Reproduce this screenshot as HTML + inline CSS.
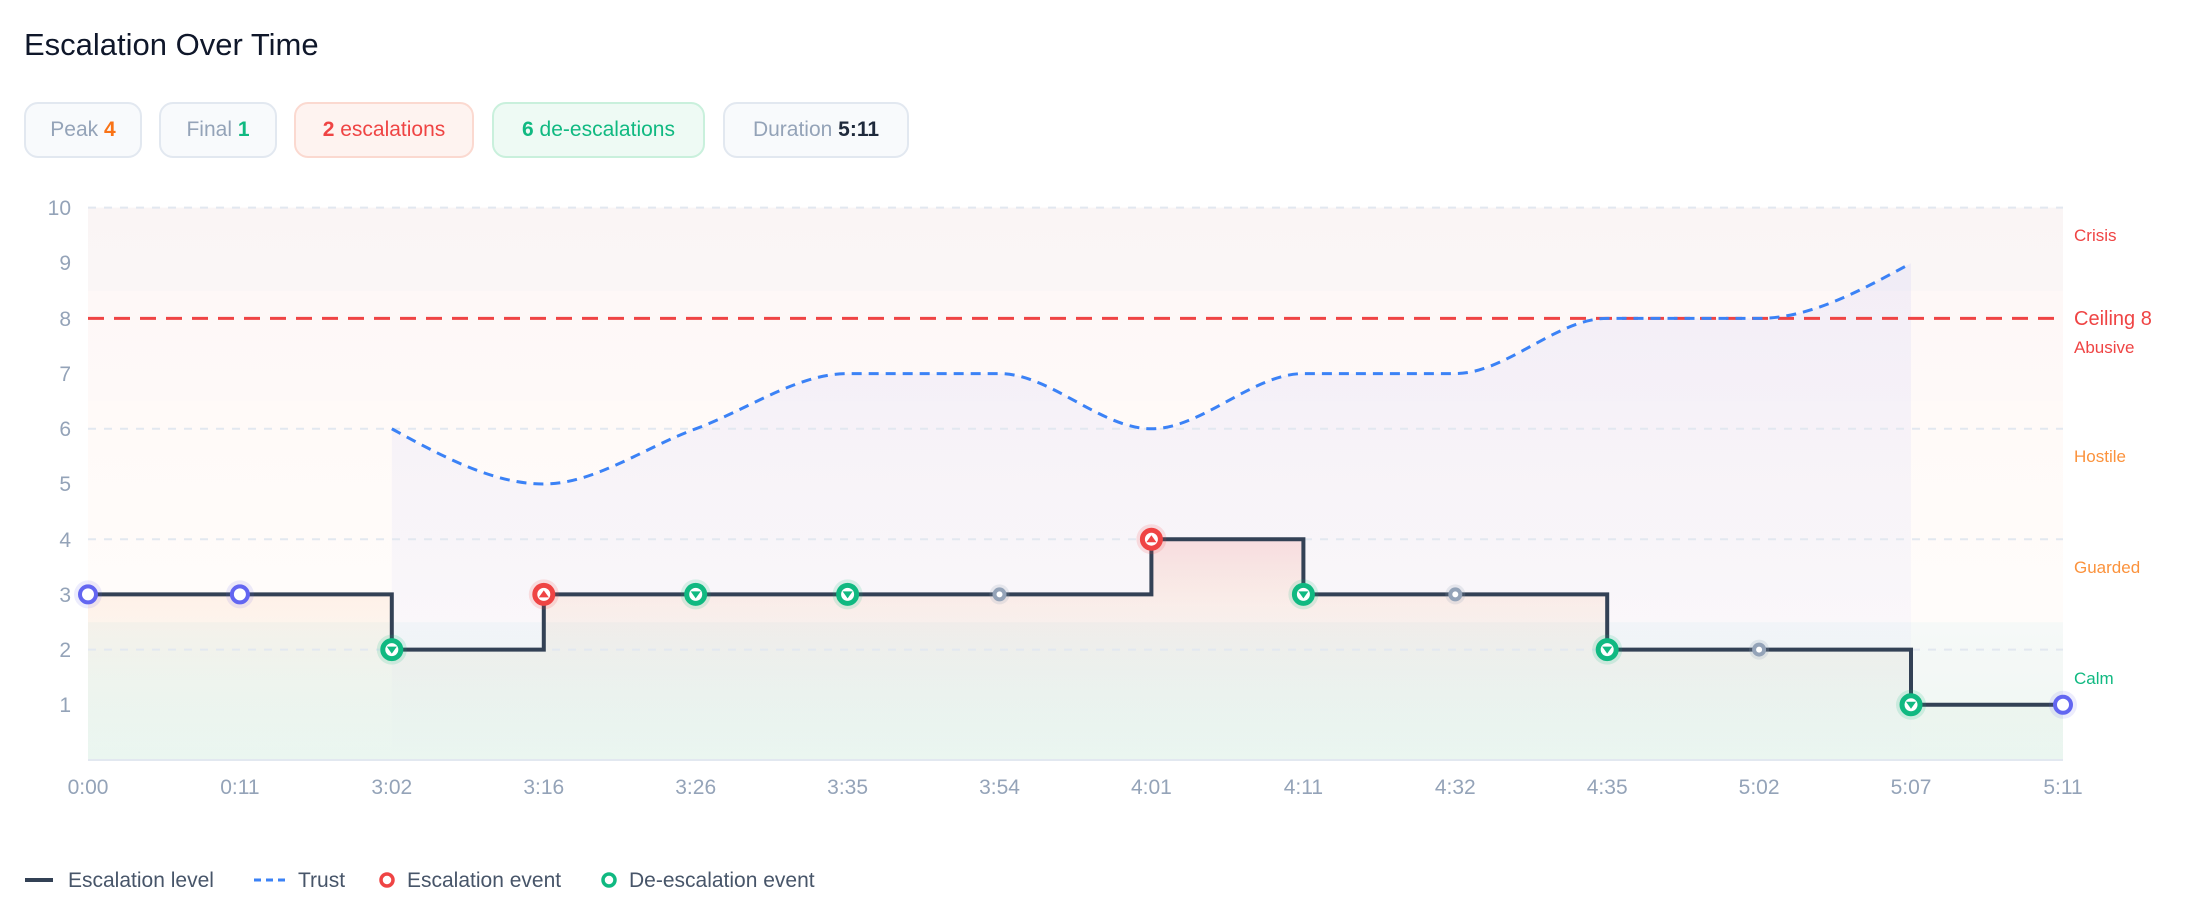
<!DOCTYPE html>
<html><head><meta charset="utf-8"><style>
body{margin:0;background:#fff;width:2192px;height:908px;overflow:hidden;font-family:"Liberation Sans",sans-serif}
.t{position:absolute;left:24px;top:27px;font-size:31px;color:#0f172a}
.chip{position:absolute;top:102px;height:56px;border-radius:14px;border:2px solid #e2e8f0;background:#f8fafc;box-sizing:border-box;font-size:21px;color:#94a3b8;display:flex;align-items:center;justify-content:center}
</style></head><body>
<div class="t">Escalation Over Time</div>
<div class="chip" style="left:24px;width:118px">Peak&nbsp;<b style="color:#f97316">4</b></div>
<div class="chip" style="left:159px;width:118px">Final&nbsp;<b style="color:#10b981">1</b></div>
<div class="chip" style="left:294px;width:180px;background:#fef3f0;border-color:#fbd9d0;color:#ef4444"><b>2</b>&nbsp;escalations</div>
<div class="chip" style="left:492px;width:213px;background:#eefaf4;border-color:#c9f0dc;color:#10b981"><b>6</b>&nbsp;de-escalations</div>
<div class="chip" style="left:723px;width:186px">Duration&nbsp;<b style="color:#1e293b">5:11</b></div>
<svg width="2192" height="908" style="position:absolute;left:0;top:0" font-family="Liberation Sans, sans-serif">
<defs>
<linearGradient id="bg" x1="0" y1="0" x2="0" y2="1">
<stop offset="0" stop-color="#faf5f5"/><stop offset="0.15" stop-color="#faf6f6"/>
<stop offset="0.151" stop-color="#fef8f7"/><stop offset="0.35" stop-color="#fef9f8"/>
<stop offset="0.351" stop-color="#fffaf8"/><stop offset="0.75" stop-color="#fffcfa"/>
<stop offset="0.751" stop-color="#f6f9f8"/><stop offset="1" stop-color="#eff7f2"/>
</linearGradient>
<linearGradient id="tr" x1="0" y1="263" x2="0" y2="760" gradientUnits="userSpaceOnUse">
<stop offset="0" stop-color="#6366f1" stop-opacity="0.07"/><stop offset="0.7" stop-color="#6366f1" stop-opacity="0.035"/><stop offset="1" stop-color="#6366f1" stop-opacity="0"/>
</linearGradient>
<linearGradient id="es" x1="0" y1="539" x2="0" y2="760" gradientUnits="userSpaceOnUse">
<stop offset="0" stop-color="#ef4444" stop-opacity="0.14"/><stop offset="0.3" stop-color="#f97316" stop-opacity="0.07"/><stop offset="1" stop-color="#10b981" stop-opacity="0.02"/>
</linearGradient>
</defs>
<rect x="88" y="207.6" width="1975" height="552.4" fill="url(#bg)"/>
<path d="M391.8,428.8 C442.4,456.4 493.2,484 543.8,484 C594.4,484 645.1,447.2 695.7,428.8 C746.3,410.4 797,373.6 847.6,373.6 L999.5,373.6 C1050.1,373.6 1100.8,428.8 1151.4,428.8 C1202,428.8 1252.8,373.6 1303.4,373.6 L1455.3,373.6 C1505.9,373.6 1556.6,318.4 1607.2,318.4 L1759.1,318.4 C1809.7,318.4 1860.4,290.8 1911,263.2 L1911,760 L391.8,760 Z" fill="url(#tr)"/>
<path d="M88,594.4 H391.8 V649.6 H543.8 V594.4 H1151.4 V539.2 H1303.4 V594.4 H1607.2 V649.6 H1911 V704.8 H2063 V760 H88 Z" fill="url(#es)"/>
<g stroke="#e2e8f0" stroke-width="2" stroke-dasharray="8 8">
<line x1="88" x2="2063" y1="207.6" y2="207.6"/><line x1="88" x2="2063" y1="428.8" y2="428.8"/><line x1="88" x2="2063" y1="539.2" y2="539.2"/><line x1="88" x2="2063" y1="649.6" y2="649.6"/>
</g>
<line x1="88" x2="2063" y1="760" y2="760" stroke="#e2e8f0" stroke-width="2"/>
<g fill="#94a3b8" font-size="21" text-anchor="end">
<text x="71" y="215">10</text><text x="71" y="270">9</text><text x="71" y="326">8</text><text x="71" y="381">7</text><text x="71" y="436">6</text><text x="71" y="491">5</text><text x="71" y="547">4</text><text x="71" y="602">3</text><text x="71" y="657">2</text><text x="71" y="712">1</text>
</g>
<g fill="#94a3b8" font-size="21" text-anchor="middle">
<text x="88" y="794">0:00</text><text x="239.9" y="794">0:11</text><text x="391.8" y="794">3:02</text><text x="543.8" y="794">3:16</text><text x="695.7" y="794">3:26</text><text x="847.6" y="794">3:35</text><text x="999.5" y="794">3:54</text><text x="1151.4" y="794">4:01</text><text x="1303.4" y="794">4:11</text><text x="1455.3" y="794">4:32</text><text x="1607.2" y="794">4:35</text><text x="1759.1" y="794">5:02</text><text x="1911" y="794">5:07</text><text x="2063" y="794">5:11</text>
</g>
<line x1="88" x2="2060" y1="318.4" y2="318.4" stroke="#ef4444" stroke-width="3" stroke-dasharray="16 10"/>
<g font-size="17">
<text x="2074" y="241" fill="#ef4444">Crisis</text>
<text x="2074" y="325" fill="#ef4444" font-size="20">Ceiling 8</text>
<text x="2074" y="353" fill="#ef4444">Abusive</text>
<text x="2074" y="462" fill="#fb923c">Hostile</text>
<text x="2074" y="573" fill="#fb923c">Guarded</text>
<text x="2074" y="684" fill="#10b981">Calm</text>
</g>
<path d="M391.8,428.8 C442.4,456.4 493.2,484 543.8,484 C594.4,484 645.1,447.2 695.7,428.8 C746.3,410.4 797,373.6 847.6,373.6 L999.5,373.6 C1050.1,373.6 1100.8,428.8 1151.4,428.8 C1202,428.8 1252.8,373.6 1303.4,373.6 L1455.3,373.6 C1505.9,373.6 1556.6,318.4 1607.2,318.4 L1759.1,318.4 C1809.7,318.4 1860.4,290.8 1911,263.2" fill="none" stroke="#3b82f6" stroke-width="3" stroke-dasharray="10 7"/>
<path d="M88,594.4 H391.8 V649.6 H543.8 V594.4 H1151.4 V539.2 H1303.4 V594.4 H1607.2 V649.6 H1911 V704.8 H2063" fill="none" stroke="#334155" stroke-width="4"/>
<g>
<g fill="#6366f1" fill-opacity="0.12"><circle cx="88" cy="594.4" r="14"/><circle cx="239.9" cy="594.4" r="14"/><circle cx="2063" cy="704.8" r="14"/></g>
<g fill="#fff" stroke="#6366f1" stroke-width="4"><circle cx="88" cy="594.4" r="8"/><circle cx="239.9" cy="594.4" r="8"/><circle cx="2063" cy="704.8" r="8"/></g>
<g fill="#10b981" fill-opacity="0.15"><circle cx="391.8" cy="649.6" r="15"/><circle cx="695.7" cy="594.4" r="15"/><circle cx="847.6" cy="594.4" r="15"/><circle cx="1303.4" cy="594.4" r="15"/><circle cx="1607.2" cy="649.6" r="15"/><circle cx="1911" cy="704.8" r="15"/></g>
<g fill="#fff" stroke="#10b981" stroke-width="5"><circle cx="391.8" cy="649.6" r="9"/><circle cx="695.7" cy="594.4" r="9"/><circle cx="847.6" cy="594.4" r="9"/><circle cx="1303.4" cy="594.4" r="9"/><circle cx="1607.2" cy="649.6" r="9"/><circle cx="1911" cy="704.8" r="9"/></g>
<g fill="#10b981"><path d="M386.8,646.6 h10 l-5,7 z"/><path d="M690.7,591.4 h10 l-5,7 z"/><path d="M842.6,591.4 h10 l-5,7 z"/><path d="M1298.4,591.4 h10 l-5,7 z"/><path d="M1602.2,646.6 h10 l-5,7 z"/><path d="M1906,701.8 h10 l-5,7 z"/></g>
<g fill="#ef4444" fill-opacity="0.15"><circle cx="543.8" cy="594.4" r="15"/><circle cx="1151.4" cy="539.2" r="15"/></g>
<g fill="#fff" stroke="#ef4444" stroke-width="5"><circle cx="543.8" cy="594.4" r="9"/><circle cx="1151.4" cy="539.2" r="9"/></g>
<g fill="#ef4444"><path d="M538.8,597.4 h10 l-5,-7 z"/><path d="M1146.4,542.2 h10 l-5,-7 z"/></g>
<g fill="#94a3b8" fill-opacity="0.2"><circle cx="999.5" cy="594.4" r="10"/><circle cx="1455.3" cy="594.4" r="10"/><circle cx="1759.1" cy="649.6" r="10"/></g>
<g fill="#fff" stroke="#94a3b8" stroke-width="4"><circle cx="999.5" cy="594.4" r="5"/><circle cx="1455.3" cy="594.4" r="5"/><circle cx="1759.1" cy="649.6" r="5"/></g>
</g>
<line x1="25" x2="53" y1="880" y2="880" stroke="#334155" stroke-width="4"/>
<text x="68" y="887" font-size="21" fill="#475569">Escalation level</text>
<line x1="254" x2="286" y1="880" y2="880" stroke="#3b82f6" stroke-width="3" stroke-dasharray="7 5"/>
<text x="298" y="887" font-size="21" fill="#475569">Trust</text>
<circle cx="387" cy="880" r="6" fill="#fff" stroke="#ef4444" stroke-width="3.5"/>
<text x="407" y="887" font-size="21" fill="#475569">Escalation event</text>
<circle cx="609" cy="880" r="6" fill="#fff" stroke="#10b981" stroke-width="3.5"/>
<text x="629" y="887" font-size="21" fill="#475569">De-escalation event</text>
</svg>
</body></html>
